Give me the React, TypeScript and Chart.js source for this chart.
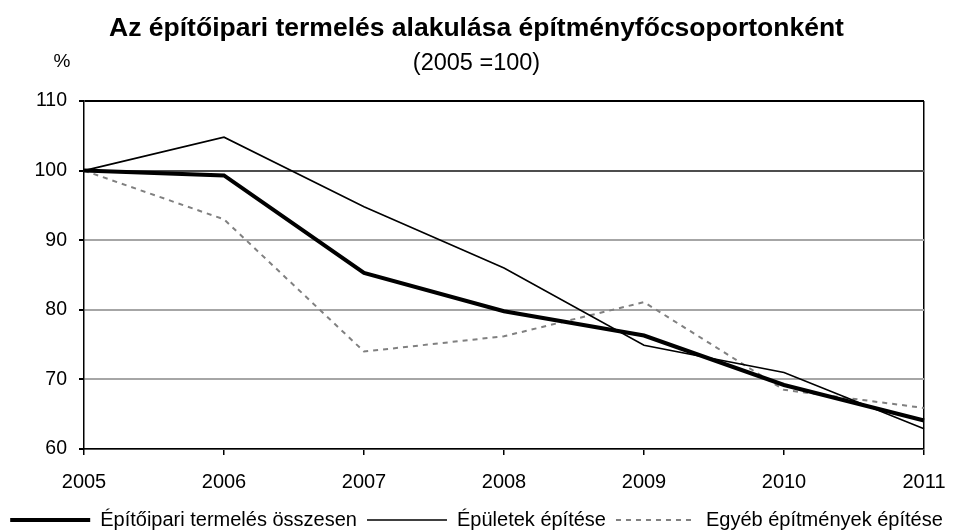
import React, { useEffect, useRef } from "react";
import { Chart, registerables } from "chart.js";

Chart.register(...registerables);

const years = ["2005", "2006", "2007", "2008", "2009", "2010", "2011"];
const totalValues = [100, 99.3, 85.3, 79.8, 76.3, 69.2, 64.1];
const buildingValues = [100, 104.8, 94.8, 86.0, 74.9, 71.0, 62.9];
const otherValues = [100, 93.0, 74.0, 76.2, 81.1, 68.5, 65.9];
const seriesNames = [
  "Építőipari termelés összesen",
  "Épületek építése",
  "Egyéb építmények építése",
];
const titleText = "Az építőipari termelés alakulása építményfőcsoportonként";
const subtitleText = "(2005 =100)";
const unitText = "%";

const FONT = "'Liberation Sans', Arial, sans-serif";

export default function App() {
  const ref = useRef<HTMLCanvasElement | null>(null);

  useEffect(() => {
    document.body.style.margin = "0";
    const canvas = ref.current;
    if (!canvas) return;

    const unitPlugin = {
      id: "unitLabel",
      afterDraw(chart: any) {
        const ctx = chart.ctx;
        ctx.save();
        ctx.font = `19px ${FONT}`;
        ctx.fillStyle = "#000";
        ctx.textAlign = "center";
        ctx.textBaseline = "middle";
        ctx.fillText(unitText, 62, 62);
        ctx.restore();
      },
    };

    const chart = new Chart(canvas, {
      type: "line",
      data: {
        labels: years,
        datasets: [
          {
            label: seriesNames[0],
            data: totalValues,
            borderColor: "#000",
            backgroundColor: "#000",
            borderWidth: 4,
            pointRadius: 0,
            pointStyle: "line",
            tension: 0,
          },
          {
            label: seriesNames[1],
            data: buildingValues,
            borderColor: "#000",
            backgroundColor: "#000",
            borderWidth: 1.6,
            pointRadius: 0,
            pointStyle: "line",
            tension: 0,
          },
          {
            label: seriesNames[2],
            data: otherValues,
            borderColor: "#808080",
            backgroundColor: "#808080",
            borderWidth: 2,
            borderDash: [5, 5],
            pointRadius: 0,
            pointStyle: "line",
            tension: 0,
          },
        ],
      },
      options: {
        animation: false,
        responsive: false,
        maintainAspectRatio: false,
        layout: { padding: { top: 0, left: 0, right: 0, bottom: -9 } },
        plugins: {
          title: {
            display: true,
            text: titleText,
            color: "#000",
            font: { family: FONT, size: 26.5, weight: "bold" },
            padding: { top: 13, bottom: 0 },
          },
          subtitle: {
            display: true,
            text: subtitleText,
            color: "#000",
            font: { family: FONT, size: 23.5 },
            padding: { top: 5, bottom: 23 },
          },
          legend: {
            display: true,
            position: "bottom",
            labels: {
              usePointStyle: true,
              pointStyleWidth: 80,
              boxWidth: 80,
              boxHeight: 10,
              padding: 10,
              color: "#000",
              font: { family: FONT, size: 20 },
              generateLabels: (ch: any) => {
                const items = Chart.defaults.plugins.legend.labels.generateLabels(ch);
                items.forEach((it: any) => {
                  const ds = ch.data.datasets[it.datasetIndex];
                  it.lineDash = ds.borderDash || [];
                  it.lineWidth = ds.borderWidth;
                  it.strokeStyle = ds.borderColor;
                });
                return items;
              },
            },
          },
          tooltip: { enabled: false },
        },
        scales: {
          x: {
            offset: false,
            afterFit: (scale: any) => {
              scale.height = 51;
              scale.paddingRight = 29;
            },
            grid: {
              display: true,
              drawOnChartArea: true,
              color: (c: any) => (c.index === years.length - 1 ? "#000" : "rgba(0,0,0,0)"),
              lineWidth: 1.5,
              tickColor: "#000",
              tickLength: 6,
            },
            border: { display: true, color: "#000", width: 1.5 },
            ticks: {
              color: "#000",
              font: { family: FONT, size: 20 },
              padding: 15,
              maxRotation: 0,
              autoSkip: false,
            },
          },
          y: {
            min: 60,
            max: 110,
            afterFit: (scale: any) => {
              scale.width = 84;
            },
            grid: {
              color: (c: any) => {
                const v = c.tick && c.tick.value;
                if (v === 110) return "#000";
                if (v === 100) return "#4d4d4d";
                return "#a6a6a6";
              },
              lineWidth: 2,
              tickColor: "#000",
              tickLength: 5,
            },
            border: { display: true, color: "#000", width: 1.5 },
            ticks: {
              stepSize: 10,
              color: "#000",
              font: { family: FONT, size: 19.5 },
              padding: 12,
            },
          },
        },
      },
      plugins: [unitPlugin],
    } as any);

    return () => chart.destroy();
  }, []);

  return (
    <div style={{ position: "absolute", left: 0, top: 0, width: 953, height: 531, background: "#fff" }}>
      <canvas ref={ref} width={953} height={531} style={{ width: 953, height: 531 }} />
    </div>
  );
}
